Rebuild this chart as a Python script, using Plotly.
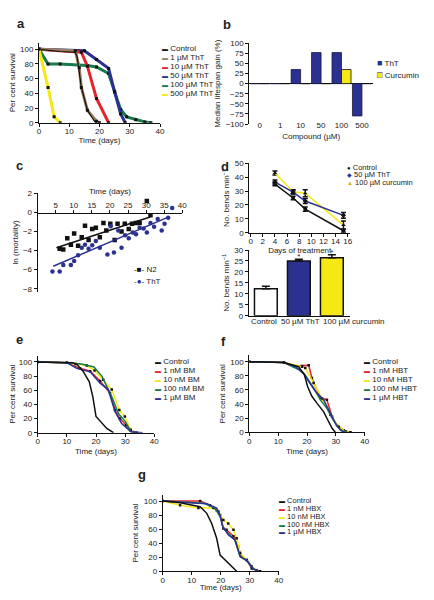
import numpy as np
import plotly.graph_objects as go

# The page body has an 8 px margin; the figure is sized so that it fits the 434x600 window.
OFF = 8
W, H = 434 - 2 * OFF, 600 - 2 * OFF
FONT = "Liberation Sans, Arial, Helvetica, sans-serif"
NAVY = "#2b3190"
RED = "#e3242b"
GREEN = "#177a4c"
YELLOW = "#f5e814"
BROWN = "#9b7f62"
BLACK = "#111111"
TXT = "#222222"

# ---------------- Panel a : ThT survival ----------------
a_series = ["Control", "1 µM ThT", "10 µM ThT", "50 µM ThT", "100 µM ThT", "500 µM ThT"]
a_control_t = [0, 7, 12, 12.6, 14, 16, 18.5, 19]
a_control_s = [100, 97, 96, 90, 48, 17, 1, 0]
a_1uM_t = [0, 12, 13.3, 14, 16, 19, 20]
a_1uM_s = [100, 98, 75, 48, 17, 2, 0]
a_10uM_t = [0, 12, 14, 16, 19, 23]
a_10uM_s = [100, 97, 96, 77, 33, 0]
a_50uM_t = [0, 15, 19, 23, 25, 27, 28.5]
a_50uM_s = [100, 98, 86, 74, 42, 12, 0]
a_100uM_t = [0, 3, 7, 16, 19, 23, 25, 27, 29, 32, 35, 37]
a_100uM_s = [100, 80, 80, 78, 76, 67, 42, 18, 8, 4, 1, 0]
a_500uM_t = [0, 3, 5, 7]
a_500uM_s = [100, 48, 8, 0]

# ---------------- Panel b : median lifespan gain ----------------
b_compounds = ["0", "1", "10", "50", "100", "500"]
b_tht = [0, 0, 35, 77, 77, -80]
b_curcumin = [0, 0, 0, 0, 35, 0]

# ---------------- Panel c : ln(mortality) ----------------
c_n2_t = [6.1, 7.1, 8.2, 9.2, 10.1, 11.2, 12.2, 13.1, 14.1, 15.1, 16.1, 17.2, 18.2, 19.0,
          20.1, 21.3, 22.1, 23.2, 24.1, 25.2, 26.1, 27.2, 28.2, 30.2, 31.2]
c_n2_m = [-3.8, -3.9, -2.7, -3.4, -2.2, -3.5, -2.6, -1.4, -2.9, -1.75, -1.6, -2.6, -1.1, -1.9,
          -1.2, -2.9, -1.2, -2.0, -1.2, -1.75, -1.2, -1.1, -1.1, 1.2, -0.3]
c_tht_t = [4.1, 6.1, 7.1, 9.2, 10.1, 11.2, 12.2, 13.1, 14.1, 15.1, 16.1, 17.2, 19.3, 20.2,
           21.1, 22.3, 23.2, 24.2, 25.2, 26.3, 27.2, 28.2, 29.3, 30.2, 31.2, 32.2, 33.2,
           34.3, 35.1, 36.1, 37.2]
c_tht_m = [-6.2, -6.2, -5.5, -5.5, -5.1, -4.5, -3.7, -3.4, -3.8, -3.45, -3.0, -3.7, -4.4, -1.45,
           -4.2, -1.9, -3.7, -2.4, -2.7, -2.1, -2.3, -1.6, -1.7, -2.1, -1.1, -1.5, -0.7,
           -1.9, -1.2, -0.55, 0.45]
# regression lines as drawn in the figure: slope, intercept, start day, end day
c_n2_fit = [0.1243, -4.346, 5.2, 31.1]
c_tht_fit = [0.162, -6.347, 4.3, 36.1]

# ---------------- Panel d : thrashing ----------------
d_series = ["Control", "50 µM ThT", "100 µM curcumin"]
d_days = [4, 7, 9, 15.3]
d_control = [35, 25, 17, 1.4]
d_control_err = [1.2, 1.2, 1.5, 1.0]
d_tht = [36.5, 29.3, 22.8, 12.5]
d_tht_err = [1.5, 1.5, 1.8, 2.0]
d_curc = [43, 29.5, 28.4, 5.5]
d_curc_err = [1.5, 1.5, 2.5, 3.0]
d_bar_groups = ["Control", "50 µM ThT", "100 µM curcumin"]
d_bar_vals = [12.3, 25.0, 26.5]
d_bar_err = [1.2, 0.8, 1.3]
d_bar_sig = [False, True, True]

# ---------------- Panel e : BM ----------------
e_series = ["Control", "1 nM BM", "10 nM BM", "100 nM BM", "1 µM BM"]
e_control_t = [0, 12, 13.6, 15.7, 17.7, 18.9, 20, 21.4, 23.7, 26]
e_control_s = [100, 99, 96, 86, 72, 51, 23, 16, 6, 0]
e_1nM_t = [0, 10, 14.5, 18, 21.4, 24.8, 26.5, 28.2, 30.3, 31.9, 34]
e_1nM_s = [100, 99, 91, 87, 73, 56, 32, 20, 11, 3, 0]
e_10nM_t = [0, 10, 13, 16.8, 19.5, 22.5, 25.4, 28, 29.9, 31.9, 33]
e_10nM_s = [100, 99, 97, 95, 88, 75, 61, 32, 23, 4, 0]
e_100nM_t = [0, 10, 15, 19.3, 22, 25.4, 27.7, 30, 32, 33]
e_100nM_s = [100, 99, 97, 93, 80, 51, 27, 16, 1.4, 0]
e_1uM_t = [0, 10, 13.4, 18, 21.4, 24.2, 26.5, 28.8, 31, 32, 36]
e_1uM_s = [100, 99, 91, 86, 70, 61, 30, 13, 5, 1.4, 0]

# ---------------- Panel f : HBT ----------------
f_series = ["Control", "1 nM HBT", "10 nM HBT", "100 nM HBT", "1 µM HBT"]
f_control_t = [0, 12, 17.1, 19.1, 20.2, 21.7, 23.5, 25.8, 27.5, 28.7, 29.8]
f_control_s = [100, 99, 93, 81.5, 65, 51, 41, 29, 15, 5.7, 0]
f_1nM_t = [0, 12, 15.4, 18.3, 20.6, 21.7, 24.6, 26.9, 28.7, 30.4, 32.7, 35]
f_1nM_s = [100, 99, 94, 94, 95, 77, 49, 46, 22, 10, 3, 0]
f_10nM_t = [0, 12, 18.3, 19.4, 22.3, 25.2, 28.1, 31, 33.3, 35]
f_10nM_s = [100, 99, 93, 91, 70, 48, 25, 8, 1, 0]
f_100nM_t = [0, 12, 17.1, 19.4, 22.3, 24.6, 26.9, 29, 31, 32.7, 34]
f_100nM_s = [100, 99, 89, 81, 63, 46, 34, 18, 6, 1, 0]
f_1uM_t = [0, 12, 16, 18.8, 20.6, 22.9, 25.8, 28.1, 29.8, 31.6, 33]
f_1uM_s = [100, 99, 93, 84, 72, 58, 46, 27, 13, 3, 0]

# ---------------- Panel g : HBX ----------------
g_series = ["Control", "1 nM HBX", "10 nM HBX", "100 nM HBX", "1 µM HBX"]
g_control_t = [0, 6, 12.9, 15.2, 16.9, 18.6, 19.8, 22, 24.4, 25.5]
g_control_s = [100, 97.6, 92, 82.5, 68, 47, 23, 14, 4, 0]
g_1nM_t = [0, 12.9, 16.3, 18.6, 19.8, 20.9, 22, 24.4, 26, 27.2, 29, 30.7, 33.6]
g_1nM_s = [100, 100, 94, 87, 80, 61, 59, 50, 35, 21, 16, 4, 0]
g_10nM_t = [0, 6, 12.3, 17.5, 19.2, 20.9, 22.6, 24.4, 25.5, 26.7, 29, 30.7, 32.4]
g_10nM_s = [100, 94, 90, 90, 85, 73, 68, 59, 47, 26, 16, 7, 1]
g_100nM_t = [0, 14, 18, 19.8, 20.9, 22.6, 24.9, 26.7, 29, 31.3, 33]
g_100nM_s = [100, 97, 90, 78, 61, 54, 44.5, 21, 16, 4, 0]
g_1uM_t = [0, 15.2, 18.6, 19.8, 20.7, 22.6, 24.9, 26.7, 29, 31.3, 33]
g_1uM_s = [100, 96, 90, 80, 63.5, 52, 44.5, 21, 15, 3, 0]


def px_x(p):
    return (p - OFF) / W


def px_y(p):
    return 1 - (p - OFF) / H


fig = go.Figure()


def surv(t, s, color, width, xa, ya, marker=False, msize=3):
    fig.add_trace(go.Scatter(
        x=t, y=s, xaxis=xa, yaxis=ya,
        mode="lines+markers" if marker else "lines",
        line=dict(color=color, width=width),
        marker=dict(color=BLACK, size=msize, symbol="square"),
        hoverinfo="skip"))


# Panel a
surv(a_100uM_t, a_100uM_s, GREEN, 3, "x", "y", True)
surv(a_50uM_t, a_50uM_s, NAVY, 3, "x", "y", True)
surv(a_10uM_t, a_10uM_s, RED, 3, "x", "y", True)
surv(a_1uM_t, a_1uM_s, BROWN, 3, "x", "y", True)
surv(a_control_t, a_control_s, BLACK, 1.2, "x", "y")
surv(a_500uM_t, a_500uM_s, YELLOW, 3, "x", "y", True)

# Panel b
fig.add_trace(go.Bar(x=b_compounds, y=b_tht, xaxis="x2", yaxis="y2", name="ThT",
                     marker=dict(color=NAVY, line=dict(color="#1a1a40", width=0.8)),
                     hoverinfo="skip"))
fig.add_trace(go.Bar(x=b_compounds, y=b_curcumin, xaxis="x2", yaxis="y2", name="Curcumin",
                     marker=dict(color=YELLOW, line=dict(color=BLACK, width=0.8)),
                     hoverinfo="skip"))

# Panel c
for t, m, fit, col, sym in [(c_n2_t, c_n2_m, c_n2_fit, BLACK, "square"),
                            (c_tht_t, c_tht_m, c_tht_fit, NAVY, "circle")]:
    fig.add_trace(go.Scatter(x=t, y=m, xaxis="x3", yaxis="y3", mode="markers",
                             marker=dict(color=col, size=4.5, symbol=sym), hoverinfo="skip"))
    k, b0, x0, x1 = fit
    xs = np.array([x0, x1])
    fig.add_trace(go.Scatter(x=xs, y=k * xs + b0, xaxis="x3", yaxis="y3", mode="lines",
                             line=dict(color=col, width=1.5), hoverinfo="skip"))

# Panel d upper
for vals, err, col, sym in [(d_control, d_control_err, BLACK, "circle"),
                            (d_curc, d_curc_err, YELLOW, "triangle-up"),
                            (d_tht, d_tht_err, NAVY, "diamond")]:
    fig.add_trace(go.Scatter(x=d_days, y=vals, xaxis="x4", yaxis="y4", mode="lines+markers",
                             line=dict(color=col, width=1.5),
                             marker=dict(color=BLACK, size=4, symbol=sym),
                             error_y=dict(type="data", array=err, color=BLACK, thickness=1.5, width=2.5),
                             hoverinfo="skip"))

# Panel d lower
fig.add_trace(go.Bar(x=d_bar_groups, y=d_bar_vals, xaxis="x5", yaxis="y5", width=0.69,
                     marker=dict(color=["#ffffff", NAVY, YELLOW], line=dict(color=BLACK, width=1.5)),
                     error_y=dict(type="data", array=d_bar_err, arrayminus=[0, 0, 0], symmetric=False,
                                  color=BLACK, thickness=1.5, width=4),
                     hoverinfo="skip"))
sig_x = [g for g, s in zip(d_bar_groups, d_bar_sig) if s]
sig_y = [v + e + 0.9 for v, e, s in zip(d_bar_vals, d_bar_err, d_bar_sig) if s]
fig.add_trace(go.Scatter(x=sig_x, y=sig_y, text=["*"] * len(sig_x), mode="text", xaxis="x5", yaxis="y5",
                         textfont=dict(size=8, color=TXT, family=FONT), textposition="middle center",
                         hoverinfo="skip"))

# Panels e, f, g
E_COLS = [BLACK, RED, YELLOW, GREEN, NAVY]
for (xa, ya), data in [
    (("x6", "y6"), [(e_1nM_t, e_1nM_s), (e_10nM_t, e_10nM_s), (e_100nM_t, e_100nM_s), (e_1uM_t, e_1uM_s), (e_control_t, e_control_s)]),
    (("x7", "y7"), [(f_1nM_t, f_1nM_s), (f_10nM_t, f_10nM_s), (f_100nM_t, f_100nM_s), (f_1uM_t, f_1uM_s), (f_control_t, f_control_s)]),
    (("x8", "y8"), [(g_1nM_t, g_1nM_s), (g_10nM_t, g_10nM_s), (g_100nM_t, g_100nM_s), (g_1uM_t, g_1uM_s), (g_control_t, g_control_s)]),
]:
    cols = [RED, YELLOW, GREEN, NAVY, BLACK]
    for (t, s), col in zip(data, cols):
        surv(t, s, col, 1.5, xa, ya, marker=(col in (RED, YELLOW)), msize=2.5)

# ---------------- axes ----------------
AX = dict(showline=True, linecolor=BLACK, linewidth=1, ticks="outside", ticklen=3, tickwidth=1,
          tickcolor=BLACK, showgrid=False, zeroline=False, automargin=False,
          tickfont=dict(size=8, family=FONT, color=TXT))
TF = dict(size=8, family=FONT, color=TXT)


def xdom(a, b):
    return [px_x(a), px_x(b)]


def ydom(top, bottom):
    return [px_y(bottom), px_y(top)]


lay = dict(width=W, height=H, margin=dict(l=0, r=0, t=0, b=0, autoexpand=False), showlegend=False,
           paper_bgcolor="white", plot_bgcolor="white", barmode="group", bargap=0.07,
           font=dict(family=FONT, size=8, color=TXT))

# a
lay["xaxis"] = dict(AX, domain=xdom(39, 160), range=[0, 40], dtick=10, anchor="y", ticklabelstandoff=-2,
                    title=dict(text="Time (days)", font=TF, standoff=2))
lay["yaxis"] = dict(AX, domain=ydom(42.7, 122.7), range=[0, 109], tickvals=[0, 20, 40, 60, 80, 100],
                    anchor="x", title=dict(text="Per cent survival", font=TF, standoff=3))
# b
lay["xaxis2"] = dict(AX, domain=xdom(249.3, 373), range=[-0.51, 5.54], type="category",
                     showline=False, ticks="", anchor="free", position=px_y(119),
                     title=dict(text="Compound (µM)", font=TF, standoff=4))
lay["yaxis2"] = dict(AX, domain=ydom(43.3, 124), range=[-100, 100], dtick=25, anchor="x2",
                     zeroline=True, zerolinecolor=BLACK, zerolinewidth=1,
                     title=dict(text="Median lifespan gain (%)", font=TF, standoff=3))
# c
lay["xaxis3"] = dict(AX, domain=xdom(37.6, 182.3), range=[0, 40], tickvals=[5, 10, 15, 20, 25, 30, 35, 40],
                     side="top", anchor="free", position=px_y(212.7), ticklabelstandoff=-1,
                     title=dict(text="Time (days)", font=TF, standoff=3))
lay["yaxis3"] = dict(AX, domain=ydom(193.3, 291.6), range=[-8.3, 2], dtick=2, anchor="x3",
                     title=dict(text="ln (mortality)", font=TF, standoff=3))
# d upper
lay["xaxis4"] = dict(AX, domain=xdom(249.3, 350.1), range=[-0.23, 16.4], dtick=2, anchor="y4",
                     ticklabelstandoff=-2,
                     title=dict(text="Days of treatment", font=TF, standoff=0))
lay["yaxis4"] = dict(AX, domain=ydom(163.3, 232.7), range=[0, 50], dtick=10, anchor="x4",
                     title=dict(text="No. bends min<sup>−1</sup>", font=TF, standoff=3))
# d lower
lay["xaxis5"] = dict(AX, domain=xdom(248.7, 350), range=[-0.52, 2.55], type="category",
                     ticks="", showticklabels=False, anchor="y5")
lay["yaxis5"] = dict(AX, domain=ydom(250, 315.7), range=[0, 30], dtick=5, anchor="x5",
                     title=dict(text="No. bends min<sup>−1</sup>", font=TF, standoff=3))
# e, f, g
for i, (xd0, xd1, yt, yb) in zip([6, 7, 8], [(37.7, 154.3, 355.6, 432.7),
                                              (249.3, 364.7, 355.4, 432.3),
                                              (162.7, 278.7, 494.7, 571.3)]):
    lay[f"xaxis{i}"] = dict(AX, domain=xdom(xd0, xd1), range=[0, 40], dtick=10, anchor=f"y{i}",
                            ticklabelstandoff=-2,
                            title=dict(text="Time (days)", font=TF, standoff=3))
    lay[f"yaxis{i}"] = dict(AX, domain=ydom(yt, yb), range=[0, 109], tickvals=[0, 20, 40, 60, 80, 100],
                            anchor=f"x{i}", title=dict(text="Per cent survival", font=TF, standoff=3))

# ---------------- annotations ----------------
ann = []


def note(xp, yp, text, size=8, xanchor="left", bold=False):
    ann.append(dict(x=px_x(xp), y=px_y(yp), xref="paper", yref="paper", xanchor=xanchor,
                    yanchor="middle", showarrow=False, text=f"<b>{text}</b>" if bold else text,
                    font=dict(size=size, family=FONT, color=TXT)))


def sym(color, glyph="▬", size=6):
    return f'<span style="color:{color};font-size:{size}px">{glyph}</span>'


# panel letters
for letter, xp, yp in [("a", 15, 23), ("b", 221, 25), ("c", 14, 165), ("d", 219, 166),
                       ("e", 14, 339), ("f", 219, 341), ("g", 136, 474)]:
    note(xp, yp, letter, size=13, bold=True)

# legend a
for i, (lab, col) in enumerate(zip(a_series, [BLACK, BROWN, RED, NAVY, GREEN, YELLOW])):
    note(160, 48.5 + 9 * i, sym(col) + " " + lab)

# legend b
note(375, 63, sym(NAVY, "■", 9) + " ThT")
note(375, 75, sym(YELLOW, "■", 9) + " Curcumin")
note(375, 75, sym(BLACK, "□", 9))

# legend c
note(132, 269, sym(BLACK, "-■-", 8) + " N2")
note(132, 281, sym(NAVY, "-●-", 8) + " ThT")

# legend d
for lab, yp, col, g in zip(d_series, [167.7, 174.8, 182.3], [BLACK, NAVY, "#c8b800"], ["●", "◆", "▲"]):
    note(345, yp, sym(col, g, 6) + " " + lab, size=7.5)

# d lower category labels
for lab, xp in zip(d_bar_groups, [264, 300, 321]):
    note(xp, 321, lab, xanchor="center" if xp < 320 else "left")

# legends e, f, g
for labels, xp, y0, dy, fs in [(e_series, 153, 361, 9, 8), (f_series, 362, 361, 9, 8),
                               (g_series, 277, 500.3, 7.9, 7.5)]:
    for i, (lab, col) in enumerate(zip(labels, E_COLS)):
        note(xp, y0 + dy * i, sym(col) + " " + lab, size=fs)

lay["annotations"] = ann
fig.update_layout(**lay)
fig.write_html("out.html")
